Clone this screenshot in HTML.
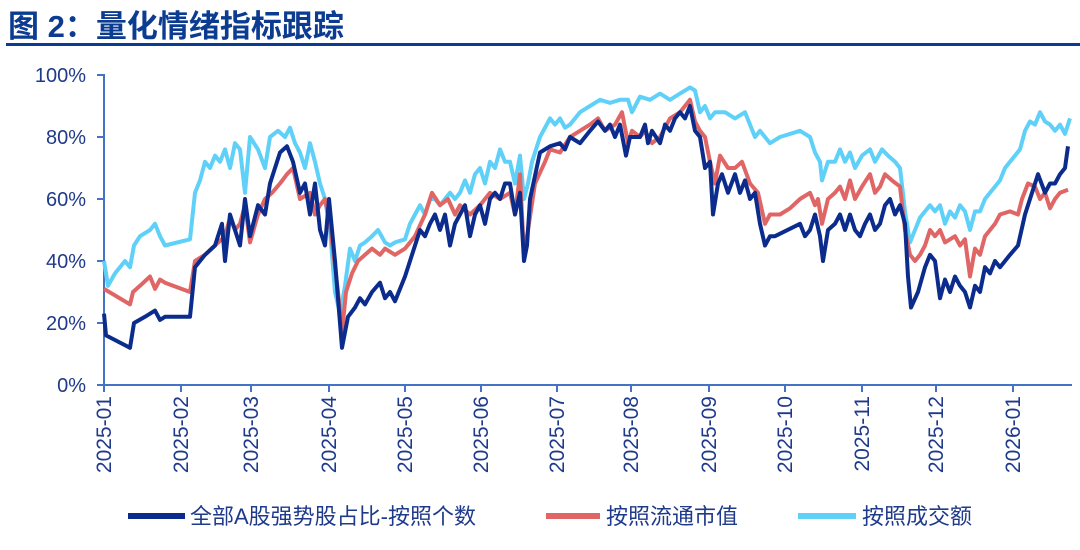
<!DOCTYPE html><html><head><meta charset="utf-8"><style>
body{margin:0;background:#fff;width:1080px;height:545px;overflow:hidden}
text{font-family:"Liberation Sans","Noto Sans CJK SC",sans-serif;fill:#1f3a8a}
</style></head><body>
<svg id="s" width="1080" height="545" viewBox="0 0 1080 545">
<text x="8" y="37" style="font-size:31px;font-weight:bold;fill:#0b3c91">图 2：量化情绪指标跟踪</text>
<rect x="6" y="43" width="1074" height="3" fill="#0b3c91"/>
<g id="ax" stroke="#4472c4" stroke-width="2" fill="none"></g>
<g id="lab"></g>
<g id="ser" fill="none" stroke-linejoin="round" stroke-width="4"></g>
<g>
<line x1="128" y1="516" x2="185" y2="516" stroke="#0b2c8c" stroke-width="6"/>
<text x="190" y="524" style="font-size:22px">全部A股强势股占比-按照个数</text>
<line x1="546" y1="516" x2="600" y2="516" stroke="#e06666" stroke-width="6"/>
<text x="606" y="524" style="font-size:22px">按照流通市值</text>
<line x1="798" y1="516" x2="856" y2="516" stroke="#5fd0f7" stroke-width="6"/>
<text x="862" y="524" style="font-size:22px">按照成交额</text>
</g>
</svg>
<script>
const Y=p=>385-p*3.1;
const ax=document.getElementById('ax'),lab=document.getElementById('lab'),ser=document.getElementById('ser');
let h=`<path d="M97 75H104V385H1072"/>`;
for(let i=0;i<=5;i++){const y=Y(i*20);h+=`<line x1="97" y1="${y}" x2="104" y2="${y}"/>`;}
const xt=[104,181,251,329,405,481,557,631,709,785,862,936,1013];
const xl=["2025-01","2025-02","2025-03","2025-04","2025-05","2025-06","2025-07","2025-08","2025-09","2025-10","2025-11","2025-12","2026-01"];
xt.forEach(x=>h+=`<line x1="${x}" y1="385" x2="${x}" y2="392"/>`);
ax.innerHTML=h;
let l='';
for(let i=0;i<=5;i++)l+=`<text x="86" y="${Y(i*20)+7}" text-anchor="end" style="font-size:20px">${i*20}%</text>`;
xt.forEach((x,i)=>l+=`<text transform="translate(${x+7},396) rotate(-90)" text-anchor="end" style="font-size:21px">${xl[i]}</text>`);
lab.innerHTML=l;
const A="104:23,106:16,130:12,134:20,145:22,155:24,160:21,165:22,190:22,195:38,205:42,215:45,222:52,225:40,230:55,240:45,245:60,250:48,258:58,265:55,270:65,280:75,287:77,293:72,300:62,305:65,310:55,315:65,320:50,325:45,329:60,335:40,342:12,348:22,355:25,360:28,365:26,372:30,380:33,385:28,390:30,395:27,405:35,415:45,420:50,425:48,430:52,435:55,440:50,445:55,450:45,455:52,460:55,465:58,470:48,475:55,480:58,485:52,490:60,495:62,500:60,505:65,510:65,515:55,520:62,524:40,527:45,530:60,540:75,550:77,560:78,565:76,570:80,580:78,590:82,598:85,605:82,610:84,615:80,620:84,626:74,630:80,640:80,645:84,648:78,652:82,660:78,665:84,670:82,675:86,680:88,685:86,690:90,695:82,700:80,705:70,710:72,713:55,718:65,722:68,728:62,735:68,740:62,745:66,750:60,755:62,760:52,765:45,770:48,775:48,800:52,805:48,810:50,815:55,820:48,823:40,828:50,835:52,840:55,845:50,850:55,855:50,860:48,865:52,870:55,875:50,880:52,885:58,890:60,895:55,900:58,905:52,908:35,911:25,918:30,925:38,930:42,935:40,940:28,945:34,950:30,955:35,960:32,965:30,970:25,975:32,980:30,985:38,990:36,995:40,1000:38,1010:42,1018:45,1025:55,1030:60,1038:68,1045:62,1050:65,1055:65,1060:68,1065:70,1068:77";
const B="104:31,130:26,133:30,140:32,150:35,155:31,160:34,165:33,190:30,195:40,205:42,215:45,225:48,230:54,235:50,240:52,245:58,250:46,258:55,265:60,272:62,280:65,287:68,293:70,300:60,310:62,315:55,320:58,325:60,330:52,338:30,342:17,346:30,352:36,358:40,365:42,372:44,380:42,385:44,395:42,405:44,415:48,425:55,432:62,440:58,448:60,455:55,460:58,470:55,480:58,490:62,500:60,510:62,515:55,520:68,524:42,528:50,535:65,545:72,550:76,560:75,570:80,580:82,590:84,598:86,605:82,615:84,622:88,628:78,632:82,640:80,645:82,652:78,660:80,670:86,680:88,690:92,695:85,700:82,705:80,710:72,715:65,720:74,728:70,735:70,742:72,750:65,758:62,765:52,770:55,780:55,790:57,800:60,810:62,815:58,818:60,822:52,828:60,835:62,840:64,845:60,850:66,855:60,862:64,870:68,875:62,880:64,885:68,892:66,900:64,905:50,910:42,915:40,920:42,925:45,930:50,935:48,940:50,945:46,950:47,955:48,960:45,965:47,970:35,975:44,980:42,985:48,990:50,995:52,1000:55,1010:56,1018:55,1022:60,1028:65,1035:64,1040:60,1045:62,1050:57,1055:60,1060:62,1068:63";
const C="104:40,108:32,115:36,125:40,130:38,134:45,140:48,150:50,155:52,160:48,165:45,190:47,195:62,200:66,205:72,210:70,215:74,220:72,225:76,230:70,235:78,240:76,245:62,250:80,258:76,265:70,270:80,278:82,285:80,290:83,295:78,300:75,305:70,310:78,315:72,320:65,325:60,330:50,335:30,340:23,345:32,350:44,355:40,360:45,365:46,372:48,378:50,385:46,390:45,395:46,405:47,410:52,415:55,420:58,425:55,430:60,435:60,440:58,445:60,450:62,455:60,460:62,465:66,470:62,475:68,480:70,485:65,490:72,495:70,500:76,505:72,510:72,515:65,520:74,524:60,528:65,532:72,540:80,550:86,555:84,560:86,565:83,570:84,580:88,590:90,600:92,610:91,620:92,628:92,632:88,640:93,650:92,660:94,670:92,680:94,690:96,695:95,700:88,705:90,710:86,715:88,725:88,735:86,745:88,750:84,755:80,760:82,765:80,770:78,780:80,800:82,810:80,815:75,820:72,822:66,828:72,835:72,840:76,845:72,850:75,855:70,862:74,870:76,875:72,882:76,888:74,895:72,900:70,905:56,910:46,915:50,920:54,925:56,930:58,935:56,940:58,945:52,950:56,955:54,960:58,965:56,970:50,975:56,980:56,985:60,990:62,995:64,1000:66,1005:70,1010:72,1015:74,1020:76,1025:82,1030:85,1035:84,1040:88,1045:85,1050:84,1055:82,1060:84,1065:81,1070:86";
const pts=s=>s.split(',').map(p=>{const[a,b]=p.split(':');return a+','+Y(+b).toFixed(1)}).join(' ');
ser.innerHTML=`<polyline points="${pts(C)}" stroke="#5fd0f7"/><polyline points="${pts(B)}" stroke="#e06666"/><polyline points="${pts(A)}" stroke="#0b2c8c"/>`;
</script>
</body></html>
